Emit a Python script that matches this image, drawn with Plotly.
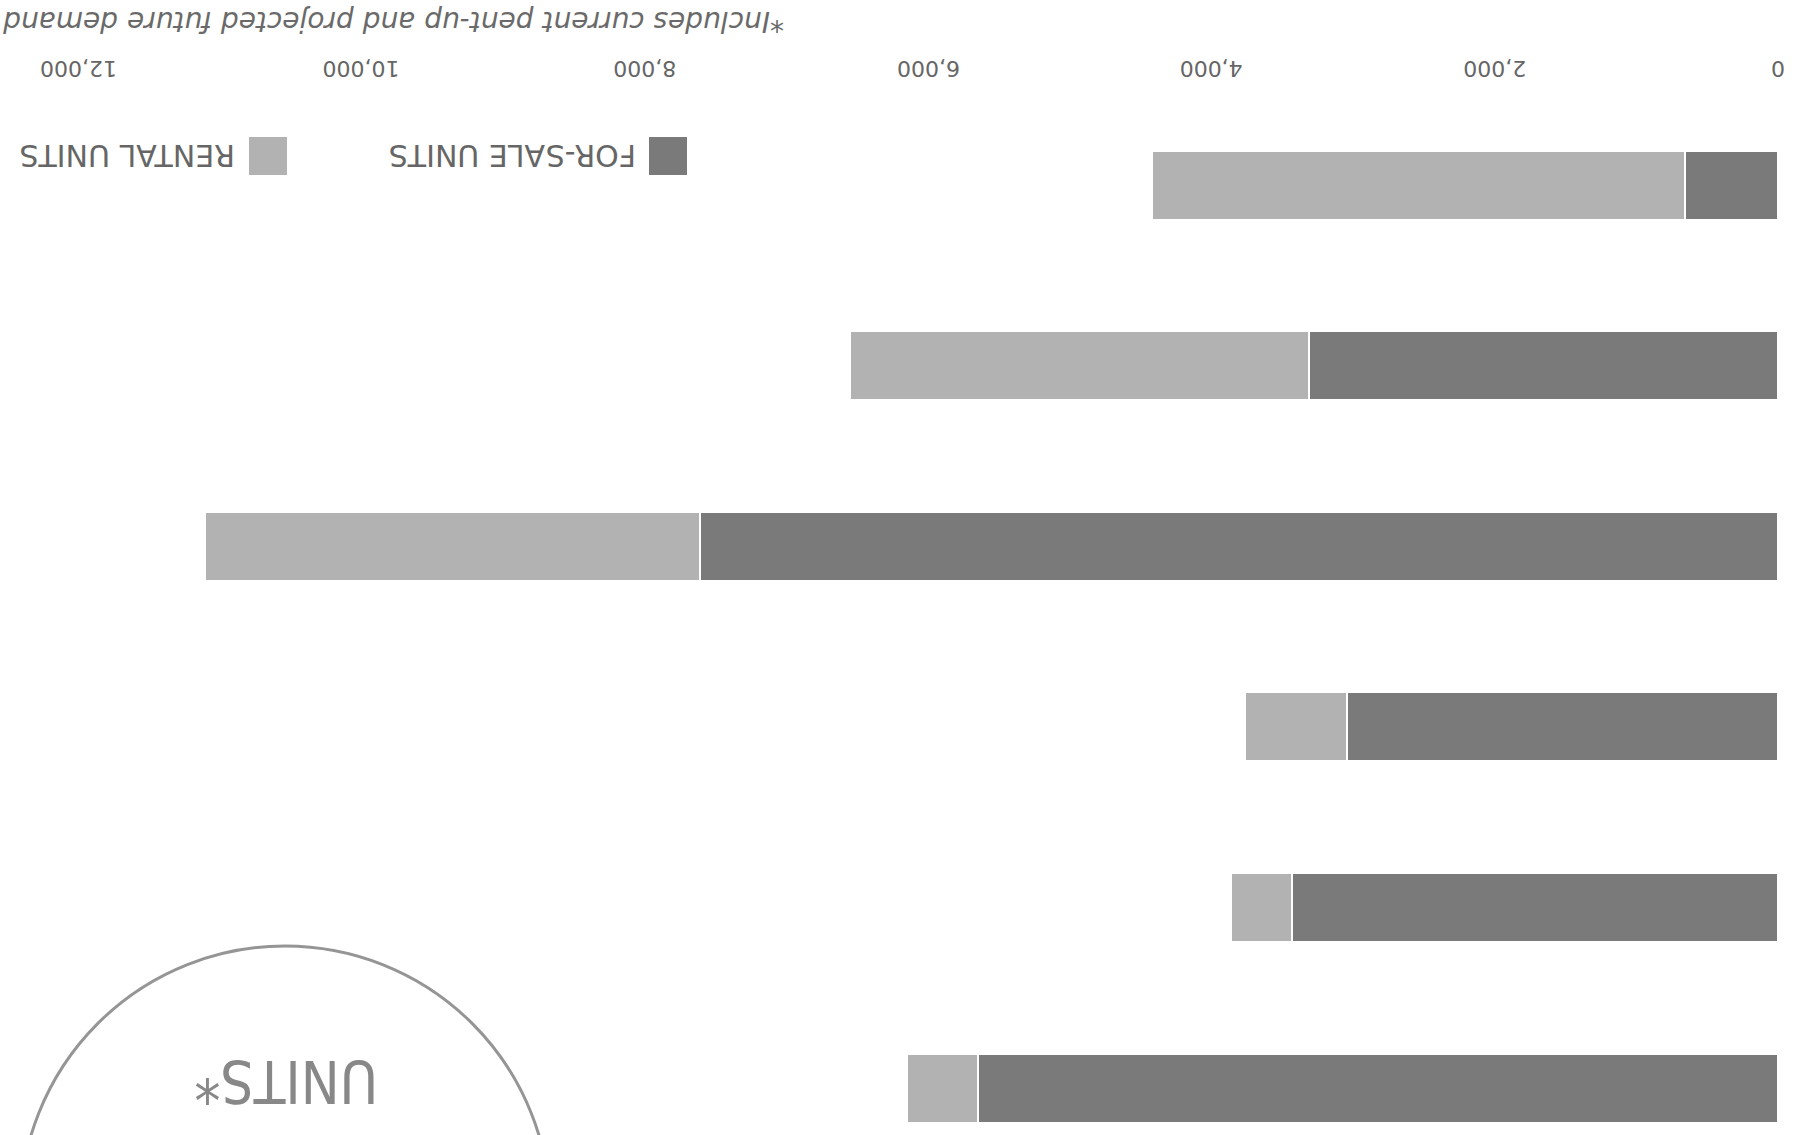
import plotly.graph_objects as go

# Housing demand by segment, units (segments listed top to bottom as drawn)
segments = ["Segment A", "Segment B", "Segment C", "Segment D", "Segment E", "Segment F"]
for_sale_units = [657, 3307, 7611, 3039, 3428, 5647]
rental_units = [3760, 3244, 3491, 721, 431, 501]

tick_values = [0, 2000, 4000, 6000, 8000, 10000, 12000]
tick_labels = ["0", "2,000", "4,000", "6,000", "8,000", "10,000", "12,000"]

legend_labels = ["FOR-SALE UNITS", "RENTAL UNITS"]
footnote = "*Includes current pent-up and projected future demand"
badge_text = "UNITS*"

DARK = "#7a7a7a"
LIGHT = "#b2b2b2"
TEXT = "#666666"
FONT = "DejaVu Sans"

W, H = 1796, 1135
ML, MR, MT, MB = 20, 18, 100, 0
PW, PH = W - ML - MR, H - MT - MB


def px_x(px):
    return (px - ML) / PW


def px_y(py):
    return (H - MB - py) / PH


fig = go.Figure()
fig.add_trace(go.Bar(
    y=segments, x=for_sale_units, orientation="h", name=legend_labels[0],
    marker=dict(color=DARK, line=dict(color="white", width=2)),
))
fig.add_trace(go.Bar(
    y=segments, x=rental_units, orientation="h", name=legend_labels[1],
    marker=dict(color=LIGHT, line=dict(color="white", width=2)),
))

# manual legend, printed upside down like the rest of the page
shapes = [
    dict(type="rect", xref="paper", yref="paper",
         x0=px_x(649), x1=px_x(687), y0=px_y(175), y1=px_y(137),
         fillcolor=DARK, line=dict(width=0)),
    dict(type="rect", xref="paper", yref="paper",
         x0=px_x(249), x1=px_x(287), y0=px_y(175), y1=px_y(137),
         fillcolor=LIGHT, line=dict(width=0)),
    # badge circle in the lower-left corner
    dict(type="circle", xref="paper", yref="paper",
         x0=px_x(20), x1=px_x(550), y0=px_y(1476), y1=px_y(946),
         line=dict(color="#959595", width=3), fillcolor="rgba(0,0,0,0)"),
]

annotations = [
    dict(text=legend_labels[0], xref="paper", yref="paper",
         x=px_x(638), y=px_y(156), xanchor="right", yanchor="middle",
         textangle=180, showarrow=False,
         font=dict(family=FONT, size=30, color=TEXT)),
    dict(text=legend_labels[1], xref="paper", yref="paper",
         x=px_x(237), y=px_y(156), xanchor="right", yanchor="middle",
         textangle=180, showarrow=False,
         font=dict(family=FONT, size=30, color=TEXT)),
    dict(text=footnote, xref="paper", yref="paper",
         x=px_x(786), y=px_y(21), xanchor="right", yanchor="middle",
         textangle=180, showarrow=False,
         font=dict(family=FONT, size=28, color="#6a6a6a", style="italic")),
    dict(text=badge_text, xref="paper", yref="paper",
         x=px_x(286), y=px_y(1081), xanchor="center", yanchor="middle",
         textangle=180, showarrow=False,
         font=dict(family="Liberation Sans Narrow, DejaVu Sans Condensed", size=58, color="#888888")),
]

# upside-down value labels along the top of the axis, centred on each tick
for v, lab in zip(tick_values, tick_labels):
    annotations.append(dict(
        text=lab, xref="x", yref="paper", x=v, y=px_y(69),
        xanchor="center", yanchor="middle", textangle=180, showarrow=False,
        font=dict(family=FONT, size=22, color=TEXT),
    ))

fig.update_layout(
    width=W, height=H,
    margin=dict(l=ML, r=MR, t=MT, b=MB, pad=0),
    paper_bgcolor="white", plot_bgcolor="white",
    barmode="stack", bargap=0.618,
    showlegend=False,
    shapes=shapes, annotations=annotations,
    font=dict(family=FONT, color=TEXT),
)
fig.update_xaxes(
    side="top", range=[12409, 0],
    tickvals=tick_values, showticklabels=False, ticks="",
    showgrid=False, zeroline=False, showline=False,
)
fig.update_yaxes(
    type="category", categoryorder="array", categoryarray=segments,
    range=[5.260, -0.4707],
    showticklabels=False, ticks="",
    showgrid=False, zeroline=False, showline=False,
)

fig.write_html("out.html")
